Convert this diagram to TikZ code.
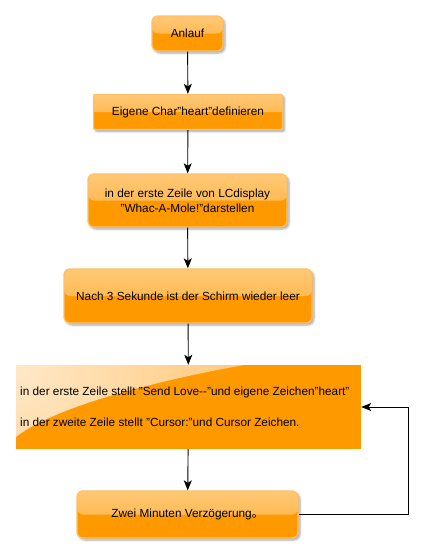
\documentclass[tikz,border=0pt]{standalone}
\usepackage{fontspec}
\setmainfont{Liberation Sans}
\newfontfamily\cjk{Noto Sans CJK SC}
\usetikzlibrary{arrows.meta,shadows.blur}
\definecolor{boxorange}{RGB}{255,153,0}
\definecolor{glosstop}{RGB}{255,200,118}
\definecolor{glossbot}{RGB}{255,174,52}
\definecolor{boxedge}{RGB}{255,192,100}
\definecolor{glosslight}{RGB}{255,232,200}
\definecolor{glossmid}{RGB}{255,168,45}
\begin{document}
\begin{tikzpicture}[x=1pt,y=-1pt,
  every node/.style={font=\fontsize{11.8}{15}\selectfont, text=black, inner sep=0pt, align=center},
  flowbox/.style={rectangle, rounded corners=6pt, fill=boxorange, draw=boxedge, line width=1.3pt,
    blur shadow={shadow xshift=2pt, shadow yshift=-2pt, shadow blur steps=6, shadow opacity=35},
    path picture={\fill[top color=glosstop, bottom color=glossbot]
      (path picture bounding box.north west) rectangle (path picture bounding box.east);}},
  flatbox/.style={rectangle, fill=boxorange, draw=none,
    path picture={\begin{scope}
      \clip (path picture bounding box.north west) -- ([xshift=228pt]path picture bounding box.north west)
      .. controls ([xshift=150pt,yshift=-14pt]path picture bounding box.north west) and ([xshift=40pt,yshift=-40pt]path picture bounding box.north west) ..
      ([yshift=-72pt]path picture bounding box.north west) -- cycle;
      \shade[inner color=glosslight, outer color=glossmid] (path picture bounding box.north west) circle (470pt);
      \end{scope}}},
  arr/.style={-{Stealth[length=10pt,width=8pt,inset=2.5pt]}, line width=0.9pt, black}]
\useasboundingbox (0,0) rectangle (424,555);

\node[flowbox, minimum width=71pt, minimum height=35pt] (n1) at (187.5,33.5) {Anlauf};
\node[flowbox, rounded corners=2pt, minimum width=189pt, minimum height=35pt] (n2) at (188,112) {Eigene Char"heart"definieren};
\node[flowbox, minimum width=199pt, minimum height=53pt] (n3) at (187.5,200.5) {in der erste Zeile von LCdisplay\\ "Whac-A-Mole!"darstellen};
\node[flowbox, minimum width=248pt, minimum height=54pt] (n4) at (188,296) {Nach 3 Sekunde ist der Schirm wieder leer};
\node[flatbox, minimum width=345pt, minimum height=84pt] (n5) at (188.5,407) {};
\node[anchor=west] (t5a) at (20,392) {in der erste Zeile stellt "Send Love-{}-"und eigene Zeichen"heart"};
\node[anchor=west] (t5b) at (20,422) {in der zweite Zeile stellt "Cursor:"und Cursor Zeichen.};
\node[flowbox, minimum width=221pt, minimum height=47pt] (n6) at (187.5,514.5) {Zwei Minuten Verzögerung{\cjk 。}};
\coordinate (c1) at (408,514.5);

\draw[arr] (n1) -- (n2);
\draw[arr] (n2) -- (n3);
\draw[arr] (n3) -- (n4);
\draw[arr] (n4) -- (n5);
\draw[arr] (n5) -- (n6);
\draw[arr] (n6.east) -- (c1) |- (n5.east);
\end{tikzpicture}
\end{document}
